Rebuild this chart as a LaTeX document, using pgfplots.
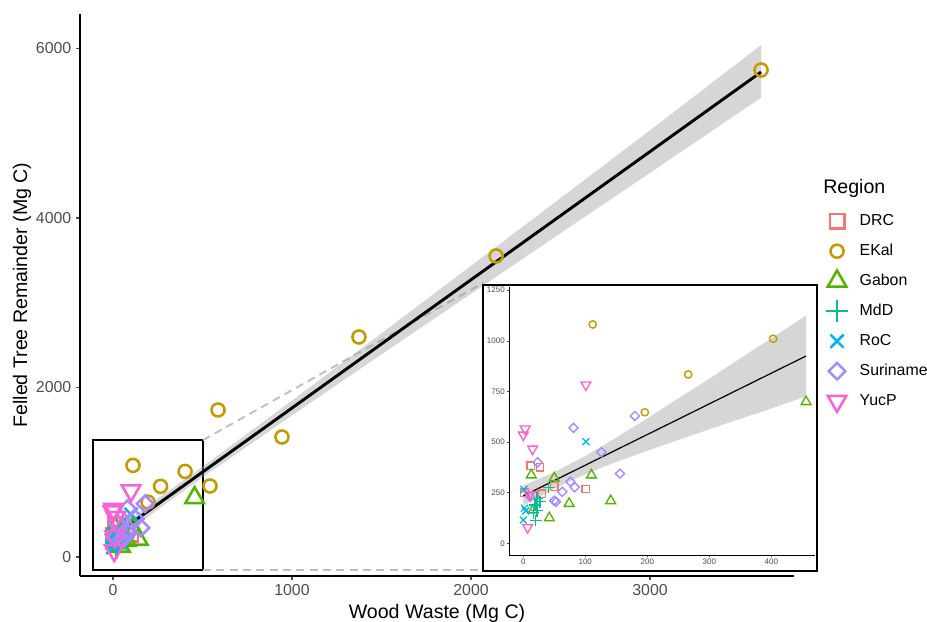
\documentclass[border=0pt]{standalone}
\usepackage{fontspec}
\setmainfont{Liberation Sans}
\usepackage{pgfplots}
\usepackage{pgfplotstable}
\pgfplotsset{compat=1.18}

\definecolor{cDRC}{HTML}{F8766D}
\definecolor{cEKal}{HTML}{C49A00}
\definecolor{cGabon}{HTML}{53B400}
\definecolor{cMdD}{HTML}{00C094}
\definecolor{cRoC}{HTML}{00B6EB}
\definecolor{cSur}{HTML}{A58AFF}
\definecolor{cYuc}{HTML}{FB61D7}
\definecolor{tickgray}{HTML}{4D4D4D}
\definecolor{dashgray}{HTML}{BEBEBE}
\definecolor{ribbon}{HTML}{999999}

% per-region data (Wood Waste, Felled Tree Remainder), Mg C
\pgfplotstableread{
x y
12 383
27 376
50 280
101 268
2 250
30 245
16 235
}\tDRC
\pgfplotstableread{
x y
112 1081
196 647
266 834
403 1010
542 838
587 1735
944 1416
1374 2596
2140 3552
3620 5746
}\tEKal
\pgfplotstableread{
x y
13 337
50 322
110 337
74 196
141 210
42 125
16 164
456 699
}\tGabon
\pgfplotstableread{
x y
41 276
27 205
22 222
19 189
22 161
16 151
20 112
}\tMdD
\pgfplotstableread{
x y
1 266
2 173
4 160
0 115
101 502
}\tRoC
\pgfplotstableread{
x y
81 570
180 629
126 450
23 400
156 344
76 304
83 277
63 254
50 210
53 205
11 230
}\tSur
\pgfplotstableread{
x y
3 565
0 535
15 466
101 783
7 78
10 240
}\tYuc

% #1 = size factor
\pgfplotsset{
  sDRC/.style={only marks, color=cDRC, mark=square, mark size=5.4pt*#1, mark options={solid, line width=1.9pt*#1}},
  sEKal/.style={only marks, color=cEKal, mark=o, mark size=4.9pt*#1, mark options={solid, line width=1.9pt*#1}},
  sGabon/.style={only marks, color=cGabon, mark=triangle, mark size=8pt*#1, mark options={solid, line width=1.9pt*#1}},
  sMdD/.style={only marks, color=cMdD, mark=+, mark size=8.3pt*#1, mark options={solid, line width=1.9pt*#1}},
  sRoC/.style={only marks, color=cRoC, mark=x, mark size=7pt*#1, mark options={solid, line width=1.9pt*#1}},
  sSur/.style={only marks, color=cSur, mark=square, mark size=4.4pt*#1, mark options={solid, rotate=45, line width=1.9pt*#1}},
  sYuc/.style={only marks, color=cYuc, mark=triangle, mark size=8pt*#1, mark options={solid, rotate=180, line width=1.9pt*#1}},
}

\begin{document}
\begin{tikzpicture}
\useasboundingbox (0,0) rectangle (695.25pt,465.75pt);

\begin{axis}[
  at={(60pt,33.75pt)}, anchor=south west,
  scale only axis, width=535.5pt, height=421.5pt,
  xmin=-184, xmax=3804, ymin=-224, ymax=6407,
  axis x line*=bottom, axis y line*=left,
  axis line style={-, line width=1.1pt, black},
  xtick={0,1000,2000,3000}, ytick={0,2000,4000,6000},
  tick align=outside, major tick length=3pt,
  tick style={tickgray, line width=0.9pt},
  ticklabel style={font=\fontsize{11.9}{13}\selectfont, text=tickgray},
  /pgf/number format/assume math mode=true,
  /pgf/number format/set thousands separator={},
  xlabel={Wood Waste (Mg C)},
  ylabel={Felled Tree Remainder (Mg C)},
  label style={font=\fontsize{14.7}{16}\selectfont},
  xlabel style={at={(axis description cs:0.5,0)}, anchor=base, yshift=-31.5pt},
  ylabel style={at={(axis description cs:-0.0812,0.5)}, anchor=center},
  clip=false,
  legend cell align=left,
  legend style={at={(1.0444,0.658)}, anchor=north west, draw=none, fill=none,
    inner sep=0pt, outer sep=0pt, row sep=0pt,
    font=\fontsize{11.9}{13}\selectfont},
  legend image code/.code={\path[draw=none, fill=none] (0,-11.25pt) rectangle (23.5pt,11.25pt);
    \draw[#1] plot coordinates {(8.5pt,0pt)};},
]
  % zoom rectangle and connector lines
  \draw[black, line width=1.1pt] (axis cs:-112,-153) rectangle (axis cs:503,1380);
  \draw[dashgray, line width=1.4pt, dash pattern=on 6pt off 4pt] (axis cs:503,1380) -- (axis cs:2067,3233);
  \draw[dashgray, line width=1.4pt, dash pattern=on 6pt off 4pt] (axis cs:503,-153) -- (axis cs:2067,-153);

  \addplot[sDRC=1, forget plot] table {\tDRC};
  \addplot[sEKal=1, forget plot] table {\tEKal};
  \addplot[sGabon=1, forget plot] table {\tGabon};
  \addplot[sMdD=1, forget plot] table {\tMdD};
  \addplot[sRoC=1, forget plot] table {\tRoC};
  \addplot[sSur=1, forget plot] table {\tSur};
  \addplot[sYuc=1, forget plot] table {\tYuc};

  % confidence band and fit
  \addplot[draw=none, fill=ribbon, fill opacity=0.4, forget plot] coordinates {
    (0,311) (500,1065) (1000,1845) (1500,2639) (2000,3436) (2500,4234) (3000,5035) (3620,6040)
    (3620,5420) (3000,4533) (2500,3821) (2000,3106) (1500,2391) (1000,1671) (500,939) (0,179)
  } -- cycle;
  \addplot[black, line width=2.2pt, forget plot] coordinates {(0,245) (3620,5722)};

  \addlegendimage{sDRC=1}\addlegendentry{DRC}
  \addlegendimage{sEKal=1}\addlegendentry{EKal}
  \addlegendimage{sGabon=1}\addlegendentry{Gabon}
  \addlegendimage{sMdD=1}\addlegendentry{MdD}
  \addlegendimage{sRoC=1}\addlegendentry{RoC}
  \addlegendimage{sSur=1}\addlegendentry{Suriname}
  \addlegendimage{sYuc=1}\addlegendentry{YucP}
\end{axis}

\node[anchor=base west, font=\fontsize{14.7}{16}\selectfont, inner sep=0pt] at (617.25pt,320.25pt) {Region};

% inset frame
\draw[black, line width=1.5pt, fill=white] (362.25pt,37.5pt) rectangle (612.75pt,252pt);

\begin{axis}[
  at={(381.75pt,49.5pt)}, anchor=south west,
  scale only axis, width=229.5pt, height=201pt,
  xmin=-23, xmax=470.5, ymin=-58, ymax=1266,
  axis x line*=bottom, axis y line*=left,
  axis line style={-, line width=0.6pt, black},
  xtick={0,100,200,300,400}, ytick={0,250,500,750,1000,1250},
  tick align=outside, major tick length=1.5pt,
  tick style={tickgray, line width=0.5pt},
  ticklabel style={font=\fontsize{6}{7}\selectfont, text=tickgray, inner sep=1.5pt},
  /pgf/number format/assume math mode=true,
  /pgf/number format/set thousands separator={},
]
  \addplot[sDRC=0.53] table {\tDRC};
  \addplot[sEKal=0.56] table {\tEKal};
  \addplot[sGabon=0.53] table {\tGabon};
  \addplot[sMdD=0.53] table {\tMdD};
  \addplot[sRoC=0.53] table {\tRoC};
  \addplot[sSur=0.55] table {\tSur};
  \addplot[sYuc=0.53] table {\tYuc};

  \addplot[draw=none, fill=ribbon, fill opacity=0.4] coordinates {
    (0,285) (50,351) (100,431) (150,522) (200,617) (250,715) (300,813) (350,913) (400,1012) (456,1125)
    (456,725) (400,666) (350,615) (300,563) (250,510) (200,457) (150,402) (100,341) (50,270) (0,185)
  } -- cycle;
  \addplot[black, line width=0.9pt] coordinates {(0,234) (456,925)};
\end{axis}
\end{tikzpicture}
\end{document}
